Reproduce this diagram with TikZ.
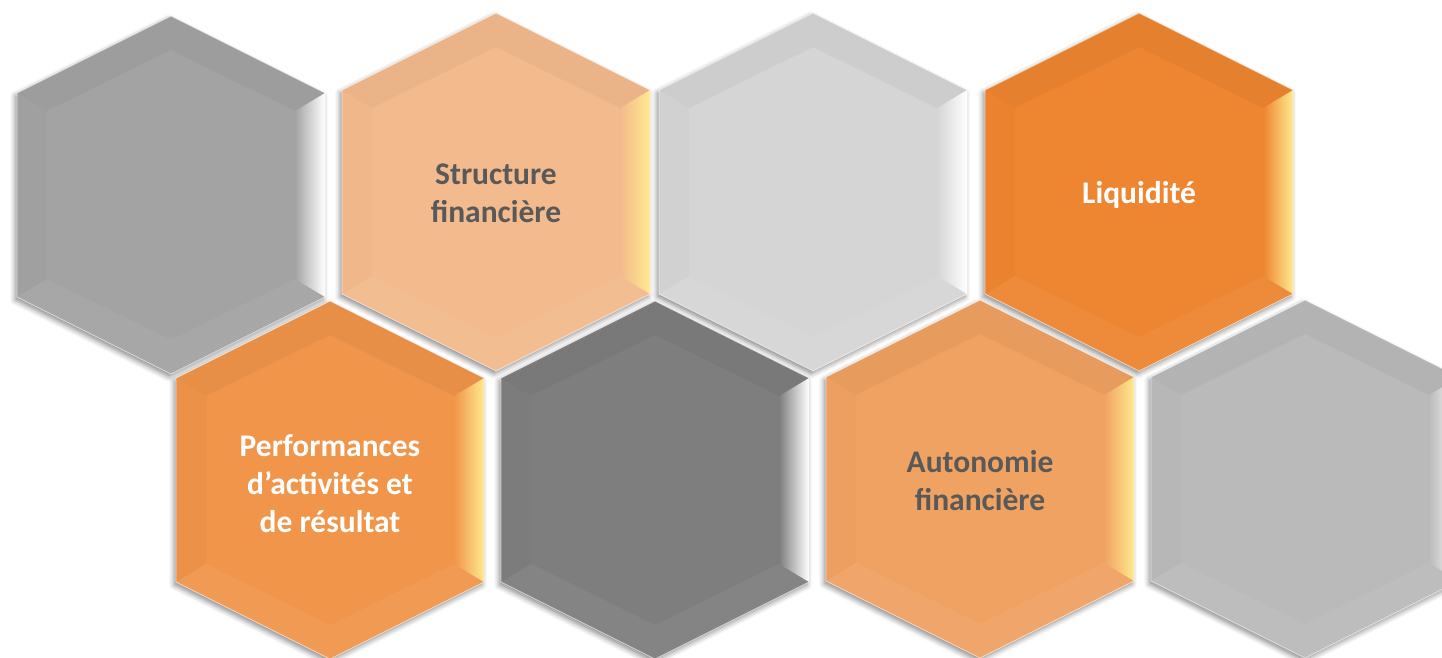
\documentclass[tikz,border=0pt]{standalone}
\usepackage{fontspec}
\setmainfont{Carlito}
\usetikzlibrary{shadows.blur}
\definecolor{hexgrayA}{HTML}{A3A3A3}
\definecolor{hexgrayB}{HTML}{D5D5D5}
\definecolor{hexgrayC}{HTML}{7E7E7E}
\definecolor{hexgrayD}{HTML}{BABABA}
\definecolor{hexpeach}{HTML}{F3BA8D}
\definecolor{hexorange}{HTML}{EE8530}
\definecolor{hexorangeB}{HTML}{F0954A}
\definecolor{hexorangeC}{HTML}{F0A262}
\definecolor{hexshine}{HTML}{FFE98F}
\definecolor{labelgray}{HTML}{595959}
\tikzset{
  hexlabel/.style={font=\bfseries\fontsize{31.5}{38}\selectfont, align=center},
  darktext/.style={hexlabel, text=labelgray},
  lighttext/.style={hexlabel, text=white},
}
\begin{document}
\begin{tikzpicture}[x=1pt,y=-1pt]
\useasboundingbox (0,0) rectangle (1442,658);
\foreach \cx/\cy/\base/\shine in {171/195/hexgrayA/white, 496/192/hexpeach/hexshine,
  813/192/hexgrayB/white, 1139/192/hexorange/hexshine,
  330/480/hexorangeB/hexshine, 655/480/hexgrayC/white,
  980/479/hexorangeC/hexshine, 1305/479/hexgrayD/white} % edit here for the cells
{
\begin{scope}[shift={(\cx,\cy)}]
\fill[\base, blur shadow={shadow xshift=-2pt, shadow yshift=-3pt, shadow blur radius=5pt, shadow opacity=45}]
  (0,-179) -- (154,-102) -- (154,102) -- (0,179) -- (-154,102) -- (-154,-102) -- cycle;
\shade[left color=\base, right color=\shine] (124,-84) -- (154,-102) -- (154,102) -- (124,84) -- cycle; % bevel on the right
\fill[black, opacity=.035] (-154,-102) -- (0,-179) -- (154,-102) -- (124,-84) -- (0,-145) -- (-124,-84) -- cycle;
\fill[black, opacity=.015] (-154,-102) -- (-124,-84) -- (-124,84) -- (-154,102) -- cycle;
\fill[white, opacity=.05] (-154,102) -- (-124,84) -- (0,145) -- (124,84) -- (154,102) -- (0,179) -- cycle;
\draw[white, opacity=.6, line width=.8pt]
  (0,-179) -- (154,-102) -- (154,102) -- (0,179) -- (-154,102) -- (-154,-102) -- cycle;
\end{scope}
}
\node[darktext] (structure) at (496,193) {Structure\\financière};
\node[lighttext] (liquidite) at (1139,195) {Liquidité};
\node[lighttext] (performances) at (330,484) {Performances\\d’activités et\\de résultat};
\node[darktext] (autonomie) at (980,481) {Autonomie\\financière};
\end{tikzpicture}
\end{document}
